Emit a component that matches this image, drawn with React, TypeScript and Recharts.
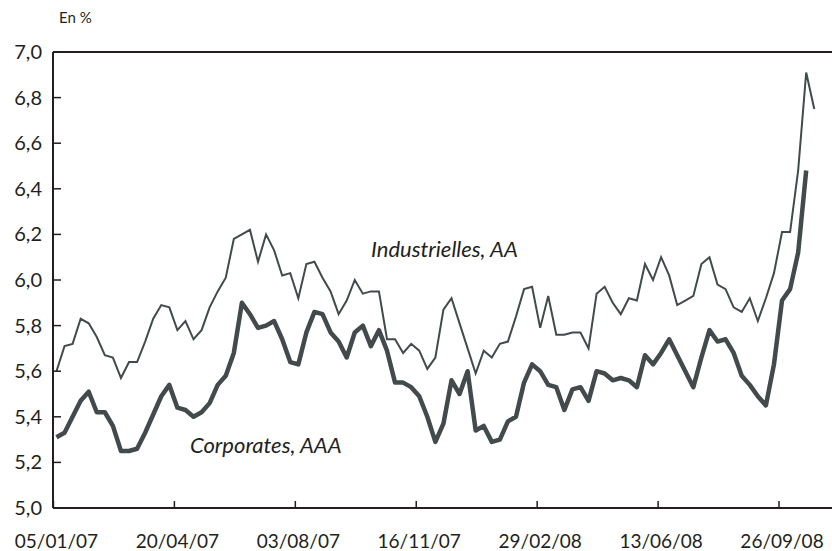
import React from 'react';
import { LineChart, Line, XAxis, YAxis, ReferenceLine } from 'recharts';

// weekly yields, from 05/01/07
const industrielles = [
  5.60, 5.71, 5.72, 5.83, 5.81, 5.75, 5.67, 5.66, 5.57, 5.64,
  5.64, 5.73, 5.83, 5.89, 5.88, 5.78, 5.82, 5.74, 5.78, 5.88,
  5.95, 6.01, 6.18, 6.20, 6.22, 6.08, 6.20, 6.13, 6.02, 6.03,
  5.92, 6.07, 6.08, 6.01, 5.95, 5.85, 5.91, 6.00, 5.94, 5.95,
  5.95, 5.74, 5.74, 5.68, 5.72, 5.69, 5.61, 5.66, 5.87, 5.92,
  5.81, 5.70, 5.59, 5.69, 5.66, 5.72, 5.73, 5.84, 5.96, 5.97,
  5.79, 5.93, 5.76, 5.76, 5.77, 5.77, 5.70, 5.94, 5.97, 5.90,
  5.85, 5.92, 5.91, 6.07, 6.00, 6.10, 6.02, 5.89, 5.91, 5.93,
  6.07, 6.10, 5.98, 5.96, 5.88, 5.86, 5.92, 5.82, 5.92, 6.03,
  6.21, 6.21, 6.48, 6.91, 6.75,
];

const corporates = [
  5.31, 5.33, 5.40, 5.47, 5.51, 5.42, 5.42, 5.36, 5.25, 5.25,
  5.26, 5.33, 5.41, 5.49, 5.54, 5.44, 5.43, 5.40, 5.42, 5.46,
  5.54, 5.58, 5.68, 5.90, 5.85, 5.79, 5.80, 5.82, 5.74, 5.64,
  5.63, 5.77, 5.86, 5.85, 5.77, 5.73, 5.66, 5.77, 5.80, 5.71,
  5.78, 5.69, 5.55, 5.55, 5.53, 5.49, 5.40, 5.29, 5.37, 5.56,
  5.50, 5.60, 5.34, 5.36, 5.29, 5.30, 5.38, 5.40, 5.55, 5.63,
  5.60, 5.54, 5.53, 5.43, 5.52, 5.53, 5.47, 5.60, 5.59, 5.56,
  5.57, 5.56, 5.53, 5.67, 5.63, 5.68, 5.74, 5.67, 5.60, 5.53,
  5.66, 5.78, 5.73, 5.74, 5.68, 5.58, 5.54, 5.49, 5.45, 5.63,
  5.91, 5.96, 6.12, 6.48,
];

const dateLabels = ['05/01/07', '20/04/07', '03/08/07', '16/11/07', '29/02/08', '13/06/08', '26/09/08'];
const xTicks = [0, 15, 30, 45, 60, 75, 90];
const yTicks = [5.0, 5.2, 5.4, 5.6, 5.8, 6.0, 6.2, 6.4, 6.6, 6.8, 7.0];

const data = industrielles.map((v, i) => ({
  i,
  industrielles: v,
  corporates: i < corporates.length ? corporates[i] : null,
}));

const FONT = 'Lato, "Open Sans", sans-serif';
const INK = '#231f20';
const LINE = '#434a4c';

const XTick = (props: any) => {
  const { x, y, payload } = props;
  const label = dateLabels[xTicks.indexOf(payload.value)];
  return (
    <g>
      <line x1={x - 3} x2={x - 3} y1={y} y2={y - 7} stroke={INK} strokeWidth={1.5} />
      <text x={x} y={y + 40} textAnchor="middle" fontSize={19} fill={INK} fontFamily={FONT}>
        {label}
      </text>
    </g>
  );
};

const YTick = (props: any) => {
  const { x, y, payload } = props;
  return (
    <g>
      <line x1={x} x2={x + 8} y1={y} y2={y} stroke={INK} strokeWidth={1.5} />
      <text x={x - 11} y={y + 7} textAnchor="end" fontSize={20} fill={INK} fontFamily={FONT}>
        {payload.value.toFixed(1).replace('.', ',')}
      </text>
    </g>
  );
};

export default function App() {
  return (
    <div style={{ position: 'absolute', left: 0, top: 0, width: 832, height: 551, background: '#fff' }}>
      <div style={{ position: 'absolute', left: 59, top: 8, fontFamily: FONT, fontSize: 15, color: INK }}>
        En %
      </div>
      <div style={{ position: 'absolute', left: 371, top: 235, fontFamily: FONT, fontSize: 22, fontStyle: 'italic', color: INK }}>
        Industrielles, AA
      </div>
      <div style={{ position: 'absolute', left: 190, top: 431, fontFamily: FONT, fontSize: 22, fontStyle: 'italic', color: INK }}>
        Corporates, AAA
      </div>
      <LineChart width={832} height={551} data={data} margin={{ top: 52, right: 0, bottom: 0, left: 0 }}>
        <XAxis
          dataKey="i"
          type="number"
          domain={[-0.43, 96.2]}
          ticks={xTicks}
          allowDataOverflow
          height={43}
          tickSize={0}
          tickMargin={0}
          tickLine={false}
          axisLine={{ stroke: INK, strokeWidth: 2 }}
          tick={<XTick />}
          interval={0}
        />
        <YAxis
          type="number"
          domain={[5, 7]}
          ticks={yTicks}
          width={53}
          tickSize={0}
          tickMargin={0}
          tickLine={false}
          axisLine={{ stroke: INK, strokeWidth: 2 }}
          tick={<YTick />}
          interval={0}
        />
        <ReferenceLine y={7} stroke={INK} strokeWidth={2} ifOverflow="visible" />
        <Line
          type="linear"
          dataKey="industrielles"
          stroke={LINE}
          strokeWidth={2}
          dot={false}
          isAnimationActive={false}
        />
        <Line
          type="linear"
          dataKey="corporates"
          stroke={LINE}
          strokeWidth={4.5}
          dot={false}
          strokeLinejoin="round"
          isAnimationActive={false}
        />
      </LineChart>
    </div>
  );
}
